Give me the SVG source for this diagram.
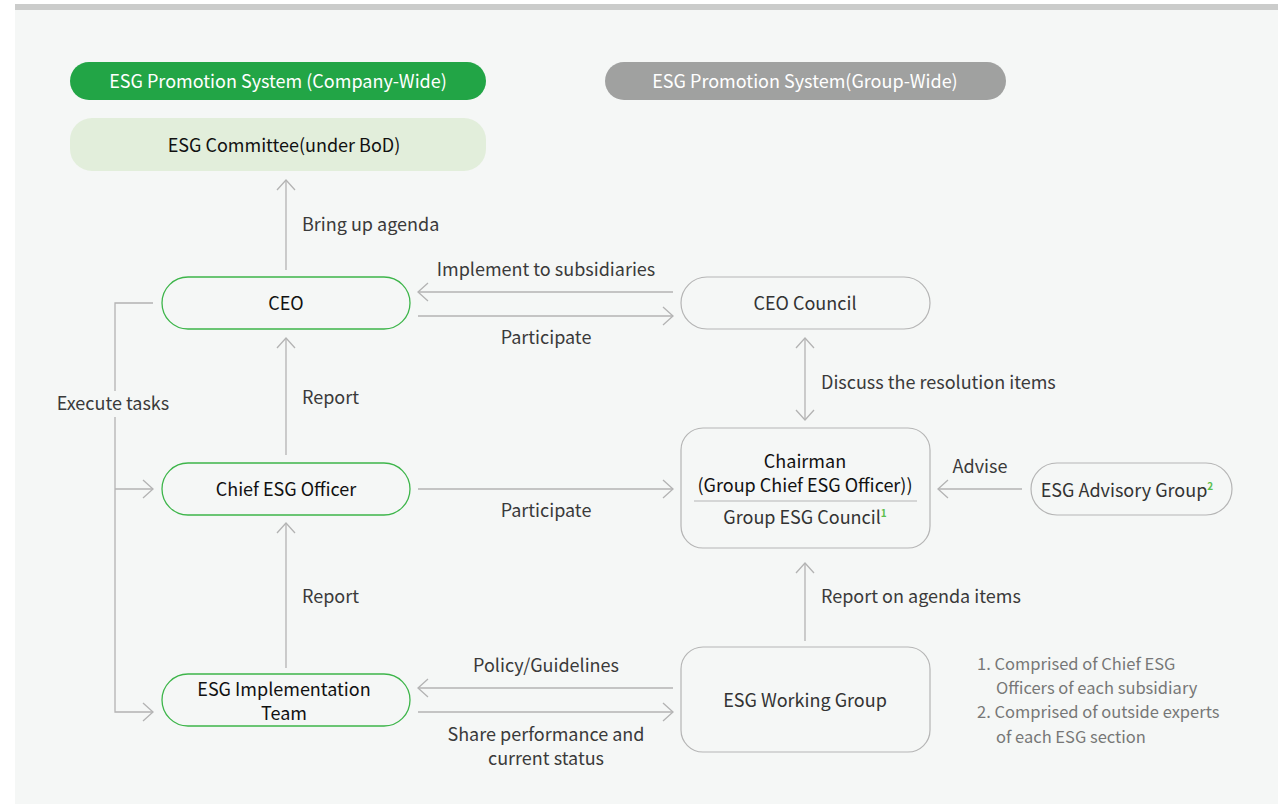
<svg xmlns="http://www.w3.org/2000/svg" width="1278" height="804" viewBox="0 0 1278 804">
<defs>
<style>
text{font-family:"Noto Sans CJK KR","Noto Sans",sans-serif;}
.lbl{font-size:18px;fill:#3a3a3a;}
.node{font-size:18px;fill:#111;}
.gnode{font-size:18px;fill:#333;}
.conn{stroke:#b3b3b3;stroke-width:1.3;fill:none;}
.gbox{fill:none;stroke:#3db54a;stroke-width:1.3;}
.graybox{fill:none;stroke:#b5b5b5;stroke-width:1.2;}
.note{font-size:16.5px;fill:#777;}
</style>
<marker id="ah" viewBox="0 0 12 20" refX="11" refY="10" markerWidth="12" markerHeight="20" markerUnits="userSpaceOnUse" orient="auto-start-reverse">
<path d="M1,1 L11,10 L1,19" fill="none" stroke="#b3b3b3" stroke-width="1.3"/>
</marker>
</defs>
<rect x="0" y="0" width="1278" height="804" fill="#ffffff"/>
<rect x="15" y="4" width="1263" height="800" fill="#f5f7f6"/>
<rect x="15" y="4" width="1263" height="6" fill="#cbcccb"/>

<g id="header-company">
<rect x="70" y="62" width="416" height="38" rx="19" fill="#22a546"/>
<text x="278" y="88" text-anchor="middle" style="font-size:18px;fill:#fff">ESG Promotion System (Company-Wide)</text>
</g>
<g id="header-group">
<rect x="605" y="62" width="401" height="38" rx="19" fill="#a0a1a0"/>
<text x="805" y="88" text-anchor="middle" style="font-size:18px;fill:#fff">ESG Promotion System(Group-Wide)</text>
</g>

<g id="connectors">
<line class="conn" x1="286" y1="270" x2="286" y2="180" marker-end="url(#ah)"/>
<line class="conn" x1="286" y1="455" x2="286" y2="338" marker-end="url(#ah)"/>
<line class="conn" x1="286" y1="668" x2="286" y2="523" marker-end="url(#ah)"/>
<polyline class="conn" points="153,303 115,303 115,712 153,712" marker-end="url(#ah)"/>
<line class="conn" x1="115" y1="489" x2="153" y2="489" marker-end="url(#ah)"/>
<line class="conn" x1="673" y1="292" x2="418" y2="292" marker-end="url(#ah)"/>
<line class="conn" x1="418" y1="316" x2="673" y2="316" marker-end="url(#ah)"/>
<line class="conn" x1="805" y1="338" x2="805" y2="420" marker-start="url(#ah)" marker-end="url(#ah)"/>
<line class="conn" x1="418" y1="489" x2="673" y2="489" marker-end="url(#ah)"/>
<line class="conn" x1="1022" y1="489" x2="938" y2="489" marker-end="url(#ah)"/>
<line class="conn" x1="805" y1="641" x2="805" y2="563" marker-end="url(#ah)"/>
<line class="conn" x1="673" y1="688" x2="418" y2="688" marker-end="url(#ah)"/>
<line class="conn" x1="418" y1="712" x2="673" y2="712" marker-end="url(#ah)"/>
<rect x="55" y="391" width="118" height="26" fill="#f5f7f6"/>
<text class="lbl" x="113" y="410" text-anchor="middle">Execute tasks</text>
<text class="lbl" x="302" y="231">Bring up agenda</text>
<text class="lbl" x="302" y="404">Report</text>
<text class="lbl" x="302" y="603">Report</text>
<text class="lbl" x="546" y="276" text-anchor="middle">Implement to subsidiaries</text>
<text class="lbl" x="546" y="344" text-anchor="middle">Participate</text>
<text class="lbl" x="546" y="517" text-anchor="middle">Participate</text>
<text class="lbl" x="821" y="389">Discuss the resolution items</text>
<text class="lbl" x="980" y="473" text-anchor="middle">Advise</text>
<text class="lbl" x="821" y="603">Report on agenda items</text>
<text class="lbl" x="546" y="672" text-anchor="middle">Policy/Guidelines</text>
<text class="lbl" x="546" y="741" text-anchor="middle">Share performance and</text>
<text class="lbl" x="546" y="765" text-anchor="middle">current status</text>
</g>

<g id="esg-committee">
<rect x="70" y="118" width="416" height="53" rx="22" fill="#e2eedb"/>
<text class="node" x="284" y="152" text-anchor="middle">ESG Committee(under BoD)</text>
</g>
<g id="ceo">
<rect class="gbox" x="162" y="277" width="248" height="52" rx="26"/>
<text class="node" x="286" y="310" text-anchor="middle">CEO</text>
</g>
<g id="chief-esg-officer">
<rect class="gbox" x="162" y="463" width="248" height="52" rx="26"/>
<text class="node" x="286" y="496" text-anchor="middle">Chief ESG Officer</text>
</g>
<g id="esg-implementation-team">
<rect class="gbox" x="162" y="674" width="248" height="52" rx="26"/>
<text class="node" x="284" y="696" text-anchor="middle">ESG Implementation</text>
<text class="node" x="284" y="720" text-anchor="middle">Team</text>
</g>
<g id="ceo-council">
<rect class="graybox" x="681" y="277" width="249" height="52" rx="26"/>
<text class="gnode" x="805" y="310" text-anchor="middle">CEO Council</text>
</g>
<g id="chairman">
<rect class="graybox" x="681" y="428" width="249" height="120" rx="22"/>
<text class="node" x="805" y="468" text-anchor="middle">Chairman</text>
<text class="node" x="805" y="492" text-anchor="middle">(Group Chief ESG Officer))</text>
<line x1="694" y1="501" x2="917" y2="501" stroke="#b5b5b5" stroke-width="1.2"/>
<text class="gnode" x="805" y="524" text-anchor="middle">Group ESG Council<tspan style="font-size:10px;fill:#5cbf4e;font-weight:700" dy="-7">1</tspan></text>
</g>
<g id="esg-advisory-group">
<rect class="graybox" x="1031" y="463" width="201" height="52" rx="26"/>
<text class="gnode" x="1127" y="497" text-anchor="middle">ESG Advisory Group<tspan style="font-size:10px;fill:#5cbf4e;font-weight:700" dy="-7">2</tspan></text>
</g>
<g id="esg-working-group">
<rect class="graybox" x="681" y="647" width="249" height="105" rx="22"/>
<text class="gnode" x="805" y="707" text-anchor="middle">ESG Working Group</text>
</g>
<g id="notes">
<text class="note" x="977" y="670">1. Comprised of Chief ESG</text>
<text class="note" x="996" y="694">Officers of each subsidiary</text>
<text class="note" x="977" y="718">2. Comprised of outside experts</text>
<text class="note" x="996" y="743">of each ESG section</text>
</g>
</svg>
